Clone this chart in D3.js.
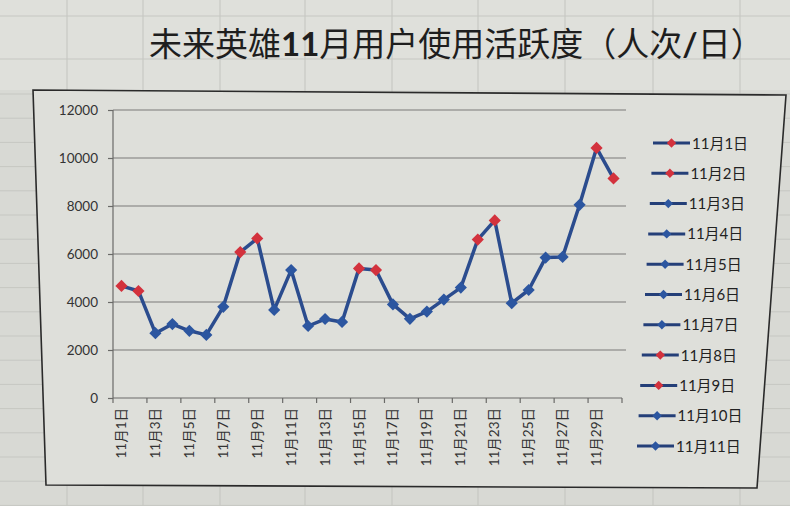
<!DOCTYPE html>
<html lang="zh">
<head>
  <meta charset="UTF-8">
  <script src="https://d3js.org/d3.v7.min.js"></script>
  <title>未来英雄11月用户使用活跃度</title>
  <style>
  body { margin:0; background:#d6d7d2; }
  svg { display:block; }
  .yAxis text, .xAxis text { font-family: Lato, "Noto Sans CJK SC", sans-serif; fill:#333; }
  .legend text { font-family: Lato, "Noto Sans CJK SC", sans-serif; fill:#222; }
  </style>
</head>
<body>
<svg id="chart" width="790" height="506"></svg>
<script>

  // data
  const days = ["11月1日","11月2日","11月3日","11月4日","11月5日","11月6日","11月7日","11月8日","11月9日","11月10日",
                "11月11日","11月12日","11月13日","11月14日","11月15日","11月16日","11月17日","11月18日","11月19日","11月20日",
                "11月21日","11月22日","11月23日","11月24日","11月25日","11月26日","11月27日","11月28日","11月29日","11月30日"];
  const users = [4670,4460,2700,3080,2800,2630,3800,6080,6650,3670,
                 5330,3000,3290,3170,5400,5330,3900,3300,3600,4100,
                 4600,6600,7400,3950,4500,5850,5880,8050,10420,9150];
  const weekend = ["11月1日","11月2日","11月8日","11月9日","11月15日","11月16日","11月22日","11月23日","11月29日","11月30日"];
  const yTicks = [0,2000,4000,6000,8000,10000,12000];
  const xLabels = ["11月1日","11月3日","11月5日","11月7日","11月9日","11月11日","11月13日","11月15日",
                   "11月17日","11月19日","11月21日","11月23日","11月25日","11月27日","11月29日"];
  const legendDays = days.slice(0, 11);

  const svg = d3.select("svg#chart");
  const width = +svg.attr("width");
  const height = +svg.attr("height");

  const lineColor = "#2b4c8e";
  const blue = "#2c56a0";
  const red = "#d3323d";

  // spreadsheet behind the chart (just decoration)
  let sheet = svg.append("g").attr("id","sheet");
  sheet.append("rect").attr("width", width).attr("height", height).attr("fill", "#d8d9d4");
  sheet.append("rect").attr("width", width).attr("height", 90).attr("fill", "#dfe0db");
  [67,143,220,305,392,478,565,653,740].forEach(x => {
    sheet.append("line").attr("x1", x).attr("x2", x).attr("y1", 0).attr("y2", height)
      .attr("stroke", "#c3c4bf").attr("stroke-width", 1);
  });
  [16,59].concat(d3.range(94, height, 24.2)).forEach(y => {
    sheet.append("line").attr("x1", 0).attr("x2", width).attr("y1", y).attr("y2", y)
      .attr("stroke", "#c6c7c2").attr("stroke-width", 1);
  });

  // title
  const title = svg.append("text")
      .attr("x", 149).attr("y", 56)
      .attr("font-family", "'Noto Sans CJK SC', sans-serif")
      .attr("font-size", 33)
      .attr("fill", "#1e1e1e");
  title.append("tspan").text("未来英雄");
  title.append("tspan").attr("font-weight", "bold").attr("font-family", "Lato, sans-serif").text("11");
  title.append("tspan").text("月用户使用活跃度（人次");
  title.append("tspan").attr("font-weight", "bold").attr("font-family", "Lato, sans-serif").text("/");
  title.append("tspan").text("日）");

  // chart frame, photographed slightly at an angle
  svg.append("path")
      .attr("d", "M33,90 L786,95 L757,488 L46,485 Z")
      .attr("fill", "#dedfda")
      .attr("stroke", "#2a2a2a")
      .attr("stroke-width", 1.6);

  const margin = {top: 110, left: 113, right: 622, bottom: 398};

  const xScale = d3.scaleBand().domain(days).range([margin.left, margin.right]).padding(0);
  const yScale = d3.scaleLinear().domain([0, 12000]).range([margin.bottom, margin.top]);

  // horizontal gridlines
  svg.append("g").attr("id","grid")
    .selectAll("line").data(yTicks.filter(d => d > 0)).join("line")
      .attr("x1", margin.left).attr("x2", margin.right + 4)
      .attr("y1", d => yScale(d)).attr("y2", d => yScale(d))
      .attr("stroke", "#7a7a78").attr("stroke-width", 1.1);

  // y axis
  const yAxis = d3.axisLeft(yScale).tickValues(yTicks).tickSize(5).tickPadding(10).tickFormat(d3.format("d"));
  const yAxisG = svg.append("g").attr("class", "yAxis")
      .attr("transform", `translate(${margin.left},0)`)
      .call(yAxis);
  yAxisG.selectAll("text").attr("font-size", 13.5);
  yAxisG.selectAll("line, path").attr("stroke", "#6a6a68").attr("stroke-width", 1.2);
  yAxisG.select("path.domain").attr("d", `M0,${margin.bottom}V${margin.top}`);

  // x axis: ticks every two days, labels centred on odd days
  const xAxisG = svg.append("g").attr("class", "xAxis");
  xAxisG.append("line")
      .attr("x1", margin.left).attr("x2", margin.right)
      .attr("y1", margin.bottom).attr("y2", margin.bottom)
      .attr("stroke", "#6a6a68").attr("stroke-width", 1.2);
  xAxisG.selectAll("line.tick")
      .data(days.filter((d, i) => i % 2 === 0).concat(["end"]))
      .join("line")
      .attr("class", "tick")
      .attr("x1", d => d === "end" ? margin.right : xScale(d))
      .attr("x2", d => d === "end" ? margin.right : xScale(d))
      .attr("y1", margin.bottom).attr("y2", margin.bottom + 5)
      .attr("stroke", "#6a6a68").attr("stroke-width", 1.2);
  xAxisG.selectAll("text")
      .data(xLabels)
      .join("text")
      .attr("transform", d => `translate(${xScale(d) + xScale.bandwidth() / 2 + 4.5},${margin.bottom + 10}) rotate(-90)`)
      .attr("text-anchor", "end")
      .attr("font-size", 13.5)
      .text(d => d);

  // the line
  const line = d3.line()
      .x((d, i) => xScale(days[i]) + xScale.bandwidth() / 2)
      .y(d => yScale(d));

  svg.append("path")
      .datum(users)
      .attr("fill", "none")
      .attr("stroke", lineColor)
      .attr("stroke-width", 3.5)
      .attr("stroke-linejoin", "round")
      .attr("d", line);

  const diamond = d3.symbol().type(d3.symbolSquare).size(74);
  svg.append("g").attr("id","markers")
    .selectAll("path").data(users).join("path")
      .attr("d", diamond)
      .attr("transform", (d, i) => `translate(${xScale(days[i]) + xScale.bandwidth() / 2},${yScale(d)}) rotate(45)`)
      .attr("fill", (d, i) => weekend.includes(days[i]) ? red : blue);

  // legend
  const legend = svg.append("g").attr("class", "legend");
  const item = legend.selectAll("g").data(legendDays).join("g")
      .attr("transform", (d, i) => `translate(${653 - i * 1.6},${143 + i * 30.3})`);
  item.append("line")
      .attr("x1", 0).attr("x2", 37).attr("y1", 0).attr("y2", 0)
      .attr("stroke", "#243f78").attr("stroke-width", 3);
  item.append("path")
      .attr("d", d3.symbol().type(d3.symbolSquare).size(44))
      .attr("transform", "translate(18.5,0) rotate(45)")
      .attr("fill", d => weekend.includes(d) ? red : blue);
  item.append("text")
      .attr("x", 39).attr("y", 5.5)
      .attr("font-size", 15)
      .text(d => d);

</script>
</body>
</html>
